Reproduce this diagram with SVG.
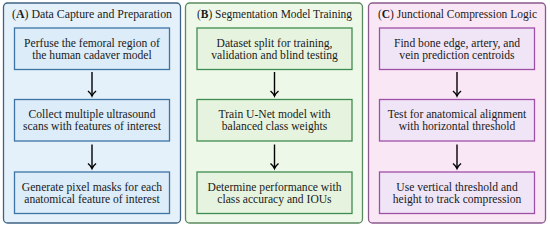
<svg xmlns="http://www.w3.org/2000/svg" width="550" height="227" viewBox="0 0 550 227">
<defs>
<style>
.title{font-size:12px}
.bx{font-size:11.6px;text-anchor:middle}
.pa{fill:#e4f1fa;stroke:#3f6384;stroke-width:1.3}
.pb{fill:#eef8e9;stroke:#5b8a5e;stroke-width:1.3}
.pc{fill:#f9e7f6;stroke:#8b5a8d;stroke-width:1.3}
.ba{fill:#dcecf8;stroke:#3c74a6;stroke-width:1.3}
.bb{fill:#e6f4df;stroke:#3f8c4f;stroke-width:1.3}
.bc{fill:#efe5f7;stroke:#a04fa6;stroke-width:1.3}
.ar{stroke:#000;stroke-width:1.4;fill:none}
</style>
<marker id="ah" markerWidth="10" markerHeight="10" refX="7" refY="5" orient="auto" markerUnits="userSpaceOnUse" viewBox="0 0 10 10">
<path d="M2,1 Q4.5,4 7,5 Q4.5,6 2,9" fill="none" stroke="#000" stroke-width="1.4"/>
</marker>
</defs>
<g font-family="Liberation Serif, serif" fill="#1a1a1a">
<g id="panelA">
<rect class="pa" x="3.5" y="3" width="177" height="220" rx="4"/>
<text class="title" x="12" y="17.5" textLength="160" lengthAdjust="spacingAndGlyphs">(<tspan font-weight="bold">A</tspan>) Data Capture and Preparation</text>
</g>
<g id="panelB">
<rect class="pb" x="185.5" y="3" width="177" height="220" rx="4"/>
<text class="title" x="197" y="17.5" textLength="155" lengthAdjust="spacingAndGlyphs">(<tspan font-weight="bold">B</tspan>) Segmentation Model Training</text>
</g>
<g id="panelC">
<rect class="pc" x="368.5" y="3" width="177" height="220" rx="4"/>
<text class="title" x="378" y="17.5" textLength="159" lengthAdjust="spacingAndGlyphs">(<tspan font-weight="bold">C</tspan>) Junctional Compression Logic</text>
</g>
<g id="a1"><rect class="ba" x="14.5" y="28" width="155" height="41.5"/>
<text class="bx" x="92" y="46.5">Perfuse the femoral region of</text>
<text class="bx" x="92" y="58.5">the human cadaver model</text></g>
<g id="a2"><rect class="ba" x="14.5" y="99.5" width="155" height="41.5"/>
<text class="bx" x="92" y="118">Collect multiple ultrasound</text>
<text class="bx" x="92" y="130">scans with features of interest</text></g>
<g id="a3"><rect class="ba" x="14.5" y="172" width="155" height="41.5"/>
<text class="bx" x="92" y="190.5">Generate pixel masks for each</text>
<text class="bx" x="92" y="202.5">anatomical feature of interest</text></g>
<g id="b1"><rect class="bb" x="197" y="28" width="155" height="41.5"/>
<text class="bx" x="274.5" y="46.5">Dataset split for training,</text>
<text class="bx" x="274.5" y="58.5">validation and blind testing</text></g>
<g id="b2"><rect class="bb" x="197" y="99.5" width="155" height="41.5"/>
<text class="bx" x="274.5" y="118">Train U-Net model with</text>
<text class="bx" x="274.5" y="130">balanced class weights</text></g>
<g id="b3"><rect class="bb" x="197" y="172" width="155" height="41.5"/>
<text class="bx" x="274.5" y="190.5">Determine performance with</text>
<text class="bx" x="274.5" y="202.5">class accuracy and IOUs</text></g>
<g id="c1"><rect class="bc" x="379.5" y="28" width="155" height="41.5"/>
<text class="bx" x="457" y="46.5">Find bone edge, artery, and</text>
<text class="bx" x="457" y="58.5">vein prediction centroids</text></g>
<g id="c2"><rect class="bc" x="379.5" y="99.5" width="155" height="41.5"/>
<text class="bx" x="457" y="118">Test for anatomical alignment</text>
<text class="bx" x="457" y="130">with horizontal threshold</text></g>
<g id="c3"><rect class="bc" x="379.5" y="172" width="155" height="41.5"/>
<text class="bx" x="457" y="190.5">Use vertical threshold and</text>
<text class="bx" x="457" y="202.5">height to track compression</text></g>
</g>
<g id="connectors">
<line class="ar" x1="92" y1="72" x2="92" y2="96" marker-end="url(#ah)"/>
<line class="ar" x1="92" y1="144.5" x2="92" y2="168.5" marker-end="url(#ah)"/>
<line class="ar" x1="274.5" y1="72" x2="274.5" y2="96" marker-end="url(#ah)"/>
<line class="ar" x1="274.5" y1="144.5" x2="274.5" y2="168.5" marker-end="url(#ah)"/>
<line class="ar" x1="457" y1="72" x2="457" y2="96" marker-end="url(#ah)"/>
<line class="ar" x1="457" y1="144.5" x2="457" y2="168.5" marker-end="url(#ah)"/>
</g>
</svg>
